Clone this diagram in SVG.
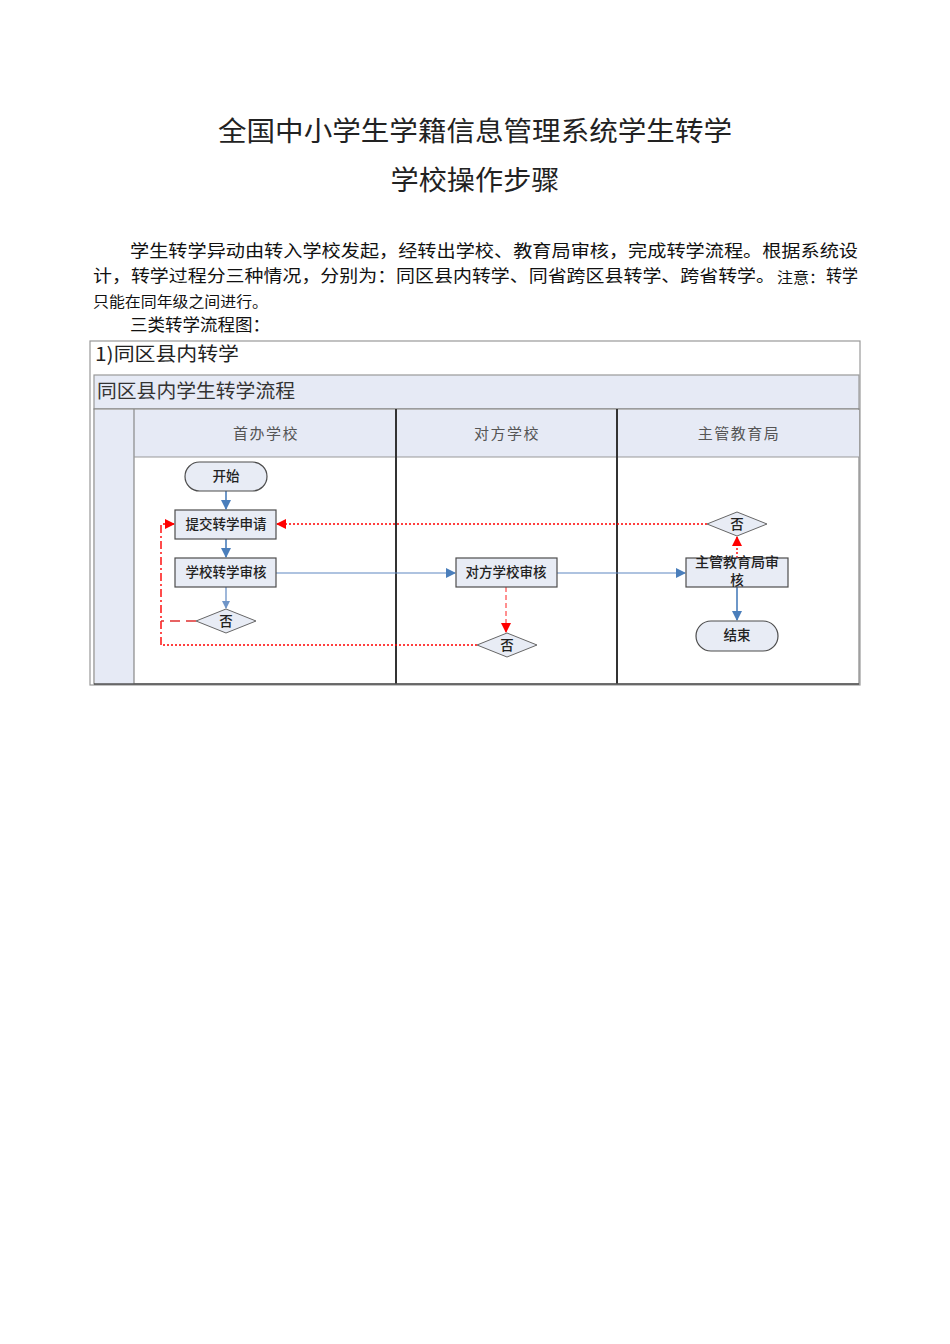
<svg xmlns="http://www.w3.org/2000/svg" width="950" height="1344" viewBox="0 0 950 1344">
<style>
text{font-family:"Noto Sans CJK SC","Noto Sans",sans-serif;}
.ttl{font-size:27px;fill:#222;text-anchor:middle;}
.para{font-size:17px;fill:#111;}
.small{font-size:15px;fill:#111;}
.lane{font-size:15px;fill:#555;text-anchor:middle;letter-spacing:1.5px;}
.nt{font-size:13.5px;fill:#222;text-anchor:middle;font-weight:500;}
.box{fill:#E8ECF5;stroke:#4d4d4d;stroke-width:1.2;}
.dia{fill:#E8ECF5;stroke:#666;stroke-width:1;}
.blue{stroke:#4A7EBB;stroke-width:1.6;fill:none;}
.bluet{stroke:#5F88C2;stroke-width:1.2;fill:none;}
.reddot{stroke:#FF0000;stroke-width:1.4;fill:none;stroke-dasharray:2,2;}
.reddash{stroke:#FF2020;stroke-width:1;fill:none;stroke-dasharray:5,3;}
.redlong{stroke:#E03030;stroke-width:1.6;fill:none;stroke-dasharray:10,6;}
.reddd{stroke:#FF0000;stroke-width:1.4;fill:none;stroke-dasharray:8,3,2,3;}
</style>
<defs>
<marker id="ab" markerWidth="10" markerHeight="10" refX="9" refY="5" orient="auto" markerUnits="userSpaceOnUse"><path d="M0,0 L10,5 L0,10 z" fill="#4A7EBB"/></marker>
<marker id="abs" markerWidth="8" markerHeight="8" refX="7" refY="4" orient="auto" markerUnits="userSpaceOnUse"><path d="M0,0 L8,4 L0,8 z" fill="#6F95C8"/></marker>
<marker id="ar" markerWidth="10" markerHeight="10" refX="9" refY="5" orient="auto" markerUnits="userSpaceOnUse"><path d="M0,0 L10,5 L0,10 z" fill="#FF0000"/></marker>
</defs>
<rect width="950" height="1344" fill="#fff"/>
<g id="title">
<text class="ttl" x="475" y="141" textLength="514" lengthAdjust="spacingAndGlyphs">全国中小学生学籍信息管理系统学生转学</text>
<text class="ttl" x="475" y="190" textLength="169" lengthAdjust="spacingAndGlyphs">学校操作步骤</text>
</g>
<g id="paragraph">
<text class="para" x="130" y="257" textLength="728" lengthAdjust="spacingAndGlyphs">学生转学异动由转入学校发起，经转出学校、教育局审核，完成转学流程。根据系统设</text>
<text class="para" x="93" y="282" textLength="682" lengthAdjust="spacingAndGlyphs">计，转学过程分三种情况，分别为：同区县内转学、同省跨区县转学、跨省转学。</text>
<text class="small" x="777" y="283" textLength="48" lengthAdjust="spacingAndGlyphs">注意：</text>
<text class="para" x="826" y="282" textLength="32" lengthAdjust="spacingAndGlyphs">转学</text>
<text class="small" x="93" y="307" textLength="175" lengthAdjust="spacingAndGlyphs">只能在同年级之间进行。</text>
<text class="para" x="130" y="331" textLength="140" lengthAdjust="spacingAndGlyphs">三类转学流程图：</text>
</g>
<g id="frame">
<rect x="90" y="341" width="770" height="344" fill="#fff" stroke="#999" stroke-width="1.2"/>
<text x="95" y="361" font-size="19" fill="#222" textLength="144" lengthAdjust="spacingAndGlyphs">1)同区县内转学</text>
<rect x="94" y="375" width="765" height="34" fill="#E6EAF5" stroke="#999" stroke-width="1.2"/>
<text x="97" y="398" font-size="19" fill="#333" textLength="198" lengthAdjust="spacingAndGlyphs">同区县内学生转学流程</text>
<rect x="94" y="409" width="765" height="275" fill="#fff" stroke="#888" stroke-width="1.2"/>
<rect x="95" y="410" width="39" height="274" fill="#E6EAF5"/>
<rect x="134" y="410" width="725" height="47" fill="#E6EAF5"/>
<line x1="134" y1="409" x2="134" y2="684" stroke="#888" stroke-width="1.2"/>
<line x1="134" y1="457" x2="859" y2="457" stroke="#999" stroke-width="1"/>
<line x1="396" y1="409" x2="396" y2="684" stroke="#333" stroke-width="2"/>
<line x1="617" y1="409" x2="617" y2="684" stroke="#333" stroke-width="2"/>
<line x1="94" y1="684" x2="859" y2="684" stroke="#555" stroke-width="1.5"/>
<text class="lane" x="266" y="439">首办学校</text>
<text class="lane" x="507" y="439">对方学校</text>
<text class="lane" x="739" y="439">主管教育局</text>
</g>
<g id="connectors">
<line class="blue" x1="226" y1="491" x2="226" y2="509" marker-end="url(#ab)"/>
<line class="blue" x1="226" y1="539" x2="226" y2="557" marker-end="url(#ab)"/>
<line class="bluet" x1="226" y1="587" x2="226" y2="608" marker-end="url(#abs)"/>
<line class="bluet" x1="276" y1="573" x2="455" y2="573" marker-end="url(#ab)"/>
<line class="bluet" x1="557" y1="573" x2="685" y2="573" marker-end="url(#ab)"/>
<line class="blue" x1="737" y1="587" x2="737" y2="620" marker-end="url(#ab)"/>
<line class="reddot" x1="737" y1="558" x2="737" y2="537" marker-end="url(#ar)"/>
<line class="reddot" x1="707" y1="524" x2="277" y2="524" marker-end="url(#ar)"/>
<line class="reddash" x1="506" y1="587" x2="506" y2="632" marker-end="url(#ar)"/>
<polyline class="reddot" points="477,645 161,645"/>
<polyline class="reddd" points="161,645 161,524 174,524" marker-end="url(#ar)"/>
<line class="redlong" x1="196" y1="621" x2="161" y2="621"/>
</g>
<g id="n-start"><rect class="box" x="185" y="462" width="82" height="29" rx="14.5"/><text class="nt" x="226" y="481">开始</text></g>
<g id="n-submit"><rect class="box" x="175" y="510" width="101" height="29"/><text class="nt" x="226" y="529">提交转学申请</text></g>
<g id="n-schoolreview"><rect class="box" x="175" y="558" width="101" height="29"/><text class="nt" x="226" y="577">学校转学审核</text></g>
<g id="n-no1"><polygon class="dia" points="196,621 226,609 256,621 226,633"/><text class="nt" x="226" y="626" font-weight="normal">否</text></g>
<g id="n-otherreview"><rect class="box" x="456" y="558" width="101" height="29"/><text class="nt" x="506" y="577">对方学校审核</text></g>
<g id="n-no2"><polygon class="dia" points="477,645 507,633 537,645 507,657"/><text class="nt" x="507" y="650" font-weight="normal">否</text></g>
<g id="n-no3"><polygon class="dia" points="707,524 737,512 767,524 737,536"/><text class="nt" x="737" y="529" font-weight="normal">否</text></g>
<g id="n-bureau"><rect class="box" x="686" y="558" width="102" height="29"/><text class="nt" x="737" y="567" font-size="12" textLength="84" lengthAdjust="spacingAndGlyphs">主管教育局审</text><text class="nt" x="737" y="585" font-size="12">核</text></g>
<g id="n-end"><rect class="box" x="696" y="621" width="82" height="30" rx="15"/><text class="nt" x="737" y="640">结束</text></g>
</svg>
